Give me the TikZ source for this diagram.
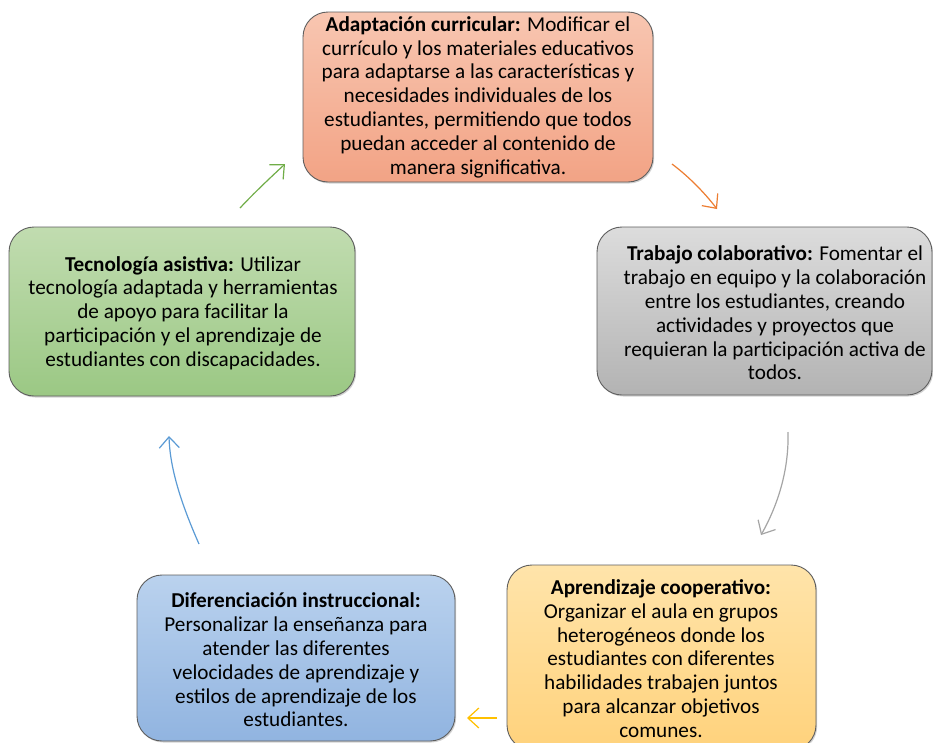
\documentclass[tikz,border=0pt]{standalone}
\usepackage{fontspec}
\setmainfont{Carlito}
\usetikzlibrary{arrows.meta,shadows}
\definecolor{bordc}{HTML}{5E5E5E}
\definecolor{orTop}{HTML}{F8C6B1}
\definecolor{orBot}{HTML}{F2A385}
\definecolor{grTop}{HTML}{DCDCDC}
\definecolor{grBot}{HTML}{B3B3B3}
\definecolor{yeTop}{HTML}{FFE4AA}
\definecolor{yeBot}{HTML}{FFD27C}
\definecolor{blTop}{HTML}{BAD2EE}
\definecolor{blBot}{HTML}{91B4E0}
\definecolor{gnTop}{HTML}{C1DCB0}
\definecolor{gnBot}{HTML}{9BC884}
\definecolor{arGreen}{HTML}{70AD47}
\definecolor{arOrange}{HTML}{ED7D31}
\definecolor{arGray}{HTML}{A5A5A5}
\definecolor{arYellow}{HTML}{FFC000}
\definecolor{arBlue}{HTML}{5B9BD5}
\tikzset{
  cbox/.style={draw=bordc, line width=0.9pt, rounded corners=25pt, inner sep=0pt,
    drop shadow={shadow xshift=1.2pt, shadow yshift=-1.5pt, opacity=0.35}},
  ctext/.style={align=center, inner sep=0pt, font=\fontsize{21.2}{23.8}\selectfont},
  carrow/.style={line width=1.2pt, -{Straight Barb[length=11pt,width=20pt,line width=1.2pt]}}
}
\begin{document}
\begin{tikzpicture}[x=1pt,y=-1pt]
\useasboundingbox (0,0) rectangle (933,742);
\fill[white] (0,0) rectangle (933,742);
\clip (0,0) rectangle (933,742);

% boxes
\node[cbox, top color=orTop, bottom color=orBot, minimum width=350pt, minimum height=170pt] (adap) at (478,97) {};
\node[cbox, top color=grTop, bottom color=grBot, minimum width=335pt, minimum height=168pt] (trab) at (764.5,311) {};
\node[cbox, top color=yeTop, bottom color=yeBot, minimum width=309pt, minimum height=185pt] (apre) at (661.5,657.5) {};
\node[cbox, top color=blTop, bottom color=blBot, minimum width=318pt, minimum height=166pt] (dife) at (296,658) {};
\node[cbox, top color=gnTop, bottom color=gnBot, minimum width=346pt, minimum height=169pt] (tecn) at (182,311.5) {};

% texts
\node[ctext] (adapT) at (478,97) {\textbf{Adaptación curricular:} Modificar el\\currículo y los materiales educativos\\para adaptarse a las características y\\necesidades individuales de los\\estudiantes, permitiendo que todos\\puedan acceder al contenido de\\manera significativa.};
\node[ctext] (trabT) at (775,313) {\textbf{Trabajo colaborativo:} Fomentar el\\trabajo en equipo y la colaboración\\entre los estudiantes, creando\\actividades y proyectos que\\requieran la participación activa de\\todos.};
\node[ctext] (apreT) at (661,658.5) {\textbf{Aprendizaje cooperativo:}\\Organizar el aula en grupos\\heterogéneos donde los\\estudiantes con diferentes\\habilidades trabajen juntos\\para alcanzar objetivos\\comunes.};
\node[ctext] (difeT) at (296,660) {\textbf{Diferenciación instruccional:}\\Personalizar la enseñanza para\\atender las diferentes\\velocidades de aprendizaje y\\estilos de aprendizaje de los\\estudiantes.};
\node[ctext] (tecnT) at (183,313) {\textbf{Tecnología asistiva:} Utilizar\\tecnología adaptada y herramientas\\de apoyo para facilitar la\\participación y el aprendizaje de\\estudiantes con discapacidades.};

% arrow end points
\coordinate (g1) at (240,208); \coordinate (g2) at (285,164);
\coordinate (o1) at (672,164); \coordinate (o2) at (717,209);
\coordinate (r1) at (788,432); \coordinate (r2) at (761,535);
\coordinate (y1) at (497,718); \coordinate (y2) at (467,718);
\coordinate (b1) at (199,544); \coordinate (b2) at (169,436);

\draw[carrow, arGreen] (g1) .. controls (255,192) and (270,178) .. (g2);
\draw[carrow, arOrange] (o1) .. controls (688,176) and (704,192) .. (o2);
\draw[carrow, arGray] (r1) .. controls (789,468) and (779,503) .. (r2);
\draw[carrow, arYellow] (y1) -- (y2);
\draw[carrow, arBlue] (b1) .. controls (184,510) and (170,472) .. (b2);
\end{tikzpicture}
\end{document}
